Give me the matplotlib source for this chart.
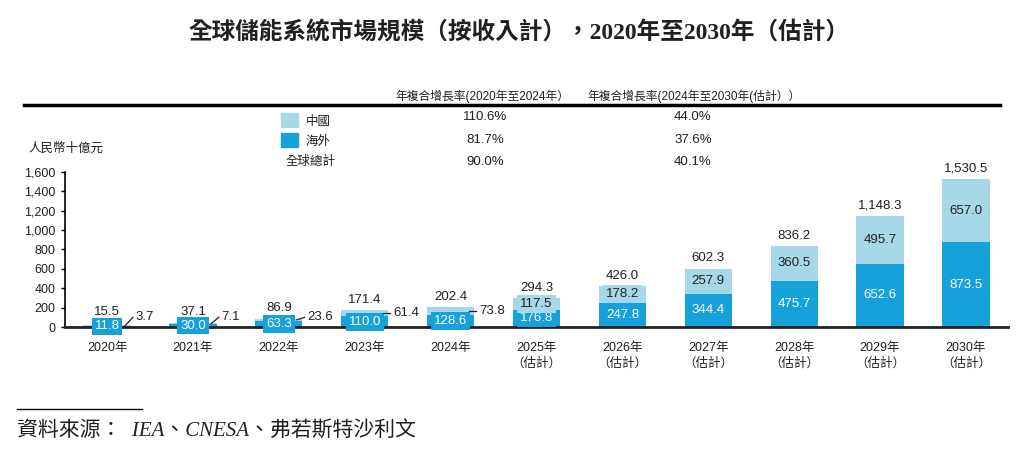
import matplotlib
matplotlib.use("Agg")
import matplotlib.pyplot as plt
from matplotlib.patches import Rectangle
from matplotlib.lines import Line2D

plt.rcParams['font.family'] = ['Liberation Sans', 'Noto Sans CJK TC', 'DejaVu Sans']

# ---------------- data ----------------
years = ["2020年", "2021年", "2022年", "2023年", "2024年",
         "2025年\n（估計）", "2026年\n（估計）", "2027年\n（估計）",
         "2028年\n（估計）", "2029年\n（估計）", "2030年\n（估計）"]
overseas = [11.8, 30.0, 63.3, 110.0, 128.6, 176.8, 247.8, 344.4, 475.7, 652.6, 873.5]
china = [3.7, 7.1, 23.6, 61.4, 73.8, 117.5, 178.2, 257.9, 360.5, 495.7, 657.0]
totals = [15.5, 37.1, 86.9, 171.4, 202.4, 294.3, 426.0, 602.3, 836.2, 1148.3, 1530.5]
yticks = [0, 200, 400, 600, 800, 1000, 1200, 1400, 1600]

legend_names = ["中國", "海外", "全球總計"]
cagr_hist = ["110.6%", "81.7%", "90.0%"]
cagr_fore = ["44.0%", "37.6%", "40.1%"]
header_hist = "年複合增長率(2020年至2024年）"
header_fore = "年複合增長率(2024年至2030年(估計））"
title = "全球儲能系統市場規模（按收入計），2020年至2030年（估計）"
unit = "人民幣十億元"
source = "資料來源：  IEA、CNESA、弗若斯特沙利文"

C_LIGHT = "#A6D8EA"
C_DARK = "#17A1DB"
C_TEXT = "#231F20"

W, H = 1032, 465
fig = plt.figure(figsize=(W / 100, H / 100), dpi=100)


def fx(x):
    return x / W


def fy(y):
    return 1 - y / H


ax = fig.add_axes([fx(65), fy(327), (1008 - 65) / W, (327 - 172) / H])

xs = list(range(len(years)))
bw = 0.55
ax.bar(xs, overseas, width=bw, color=C_DARK, zorder=2)
ax.bar(xs, china, width=bw, bottom=overseas, color=C_LIGHT, zorder=2)

ax.set_xlim(-0.49, len(years) - 0.51)
ax.set_ylim(0, 1600)
ax.set_yticks(yticks)
ax.set_yticklabels([f"{v:,}" for v in yticks], fontsize=9, color=C_TEXT)
ax.set_xticks(xs)
ax.set_xticklabels(years, fontsize=9, color=C_TEXT, linespacing=1.3)
ax.tick_params(axis='x', length=0, pad=11)
ax.tick_params(axis='y', length=3, width=1, direction='out', pad=4)
for s in ("top", "right"):
    ax.spines[s].set_visible(False)
ax.spines['left'].set_linewidth(1.2)
ax.spines['bottom'].set_linewidth(2)
ax.spines['bottom'].set_color("#222222")
ax.spines['bottom'].set_zorder(4)

for i, (o, c, t) in enumerate(zip(overseas, china, totals)):
    # overseas label
    ax.text(i, o / 2, f"{o:,.1f}", ha='center', va='center', fontsize=9.5,
            color='white', zorder=5,
            bbox=dict(boxstyle='square,pad=0.22', fc=C_DARK, ec='none'))
    cc = o + c / 2
    if c < 100:
        ty = max(cc, 100)
        ax.add_line(Line2D([i + 0.21, i + 0.30], [cc, ty], color=C_TEXT, lw=0.9, zorder=5))
        ax.text(i + 0.33, ty, f"{c:,.1f}", ha='left', va='center', fontsize=9.5,
                color=C_TEXT, zorder=5)
    else:
        ax.text(i, cc, f"{c:,.1f}", ha='center', va='center', fontsize=9.5,
                color=C_TEXT, zorder=5,
                bbox=dict(boxstyle='square,pad=0.22', fc=C_LIGHT, ec='none'))
    ax.annotate(f"{t:,.1f}", xy=(i, max(t, 45)), xytext=(0, 3), textcoords='offset points',
                ha='center', va='bottom', fontsize=9.5, color=C_TEXT)

# ---------------- title ----------------
fig.text(fx(519), fy(33), title, ha='center', va='center', fontsize=17,
         fontweight='bold', color=C_TEXT,
         family=['Liberation Serif', 'Noto Sans CJK TC'])

# ---------------- header table ----------------
fig.add_artist(Line2D([fx(24), fx(1000)], [fy(105), fy(105)], color='black', lw=2.5))
fig.text(fx(395), fy(96), header_hist, ha='left', va='center', fontsize=8.5, color=C_TEXT)
fig.text(fx(587), fy(96), header_fore, ha='left', va='center', fontsize=8.5, color=C_TEXT)

fig.add_artist(Rectangle((fx(281), fy(127)), 17 / W, 14 / H, color=C_LIGHT, transform=fig.transFigure))
fig.add_artist(Rectangle((fx(281), fy(147)), 17 / W, 14 / H, color=C_DARK, transform=fig.transFigure))
fig.text(fx(306), fy(122), legend_names[0], ha='left', va='center', fontsize=9, color=C_TEXT)
fig.text(fx(306), fy(142), legend_names[1], ha='left', va='center', fontsize=9, color=C_TEXT)
fig.text(fx(286), fy(162), legend_names[2], ha='left', va='center', fontsize=9, color=C_TEXT)

for k, yy in enumerate([117, 140, 162]):
    fig.text(fx(485), fy(yy), cagr_hist[k], ha='center', va='center', fontsize=9.5, color=C_TEXT)
    fig.text(fx(693), fy(yy), cagr_fore[k], ha='center', va='center', fontsize=9.5, color=C_TEXT)

fig.text(fx(28), fy(149), unit, ha='left', va='center', fontsize=9, color=C_TEXT)

# ---------------- source ----------------
fig.add_artist(Line2D([fx(17), fx(142)], [fy(409), fy(409)], color='black', lw=1))
fig.text(fx(17), fy(432), source, ha='left', va='center', fontsize=15, style='italic',
         color=C_TEXT, family=['Liberation Serif', 'Noto Sans CJK TC'])

fig.savefig("out.png", dpi=100)
